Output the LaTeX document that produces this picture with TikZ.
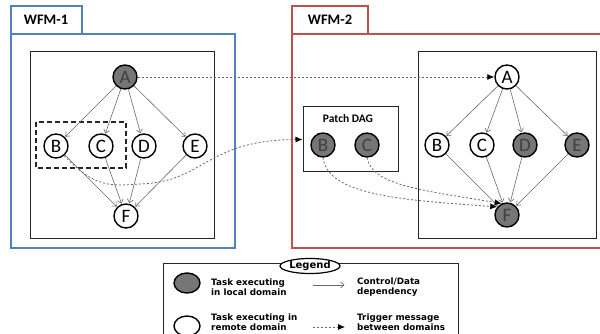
\documentclass[tikz,border=0pt]{standalone}
\usepackage{fontspec}
\setmainfont{Carlito}
\newfontfamily\legfont{DejaVu Sans}
\usetikzlibrary{arrows.meta,shapes.geometric}

\definecolor{wfmblue}{RGB}{79,129,189}
\definecolor{wfmred}{RGB}{192,80,77}
\definecolor{taskgrey}{RGB}{118,118,118}
\definecolor{depgrey}{RGB}{105,105,105}

\tikzset{
  task/.style={circle,draw=black,line width=1.4pt,minimum size=24pt,inner sep=0pt,
    font=\fontsize{19}{19}\selectfont},
  local/.style={task,fill=taskgrey,text=black!75},
  remote/.style={task,fill=white},
  dep/.style={draw=depgrey,line width=0.6pt,-{Straight Barb[length=3.5pt,width=6pt]},shorten >=0.5pt},
  trig/.style={draw=black!60,line width=0.8pt,dash pattern=on 2pt off 2pt,
    -{Latex[length=7pt,width=6pt,fill=black,color=black]}},
  frame/.style={draw=black!85,line width=1pt},
  tab/.style={font=\bfseries\fontsize{14.5}{14.5}\selectfont},
  legtext/.style={font=\legfont\bfseries\fontsize{8.8}{9.8}\selectfont,align=left,anchor=west,inner sep=0pt}
}

\begin{document}
\begin{tikzpicture}[x=1pt,y=-1pt]
\useasboundingbox (0,0) rectangle (600,334);

% WFM-1
\draw[wfmblue,line width=1.5pt] (11,34) rectangle (235,248);
\draw[wfmblue,line width=1.5pt,fill=white] (11,6) rectangle (82,34);
\node[tab] (wfm1) at (46,20) {WFM-1};
\draw[frame] (30,52) rectangle (214,238);
\draw[black!85,line width=1.2pt,dash pattern=on 5pt off 3pt] (36,122) rectangle (126,168);
\node[local] (A1) at (125,77) {A};
\node[remote] (B1) at (56,146) {B};
\node[remote] (C1) at (101,146) {C};
\node[remote] (D1) at (144,146) {D};
\node[remote] (E1) at (195,146) {E};
\node[remote] (F1) at (126,216) {F};
\foreach \t in {B1,C1,D1,E1}{
  \draw[dep] (A1) -- (\t);
  \draw[dep] (\t) -- (F1);
}

% WFM-2
\draw[wfmred,line width=1.5pt] (600,34) -- (292,34) -- (292,248) -- (600,248);
\draw[wfmred,line width=1.5pt,fill=white] (292,6) rectangle (368,34);
\node[tab] (wfm2) at (330,20) {WFM-2};
\draw[frame] (418,52) rectangle (596,238);
\node[frame,minimum width=95pt,minimum height=65pt,inner sep=0pt] (patch) at (350.5,139.5) {};
\node[font=\bfseries\fontsize{11.5}{11.5}\selectfont] (patchlbl) at (348,119) {Patch DAG};
\node[local] (PB) at (323,145) {B};
\node[local] (PC) at (367,145) {C};
\node[remote] (A2) at (507,77) {A};
\node[remote] (B2) at (437,145) {B};
\node[remote] (C2) at (482,145) {C};
\node[local] (D2) at (525,145) {D};
\node[local] (E2) at (577,145) {E};
\node[local] (F2) at (507,215) {F};
\foreach \t in {B2,C2,D2,E2}{
  \draw[dep] (A2) -- (\t);
  \draw[dep] (\t) -- (F2);
}

% trigger messages
\draw[trig] (A1) -- (A2);
\draw[trig] (B1.-50) .. controls (95,188) and (110,186) .. (140,184)
  .. controls (205,182) and (205,140) .. (patch.west);
\draw[trig] (PB.-90) .. controls (328,195) and (400,200) .. (F2.140);
\draw[trig] (PC.-90) .. controls (372,185) and (420,190) .. (F2.115);

% legend
\draw[frame] (163,334) -- (163,263) -- (458,263) -- (458,334);
\node[ellipse,draw=black,line width=1.2pt,fill=white,minimum width=60pt,minimum height=15pt,inner sep=0pt,
  font=\legfont\bfseries\fontsize{10}{10}\selectfont] (legend) at (310,266) {Legend};
\node[ellipse,draw=black,line width=1.4pt,fill=taskgrey,minimum width=26pt,minimum height=20pt] (keyloc) at (187,283) {};
\node[ellipse,draw=black,line width=1.4pt,fill=white,minimum width=26pt,minimum height=20pt] (keyrem) at (187,326) {};
\node[legtext] (txtloc) at (211,287) {Task executing\\in local domain};
\node[legtext] (txtrem) at (211,322.5) {Task executing in\\remote domain};
\node[legtext] (txtdep) at (357,287) {Control/Data\\dependency};
\node[legtext] (txttrig) at (357,322.5) {Trigger message\\between domains};
\coordinate (depa) at (313,285);
\coordinate (depb) at (345,285);
\coordinate (triga) at (313,327);
\coordinate (trigb) at (345,327);
\draw[dep] (depa) -- (depb);
\draw[trig] (triga) -- (trigb);
\end{tikzpicture}
\end{document}
